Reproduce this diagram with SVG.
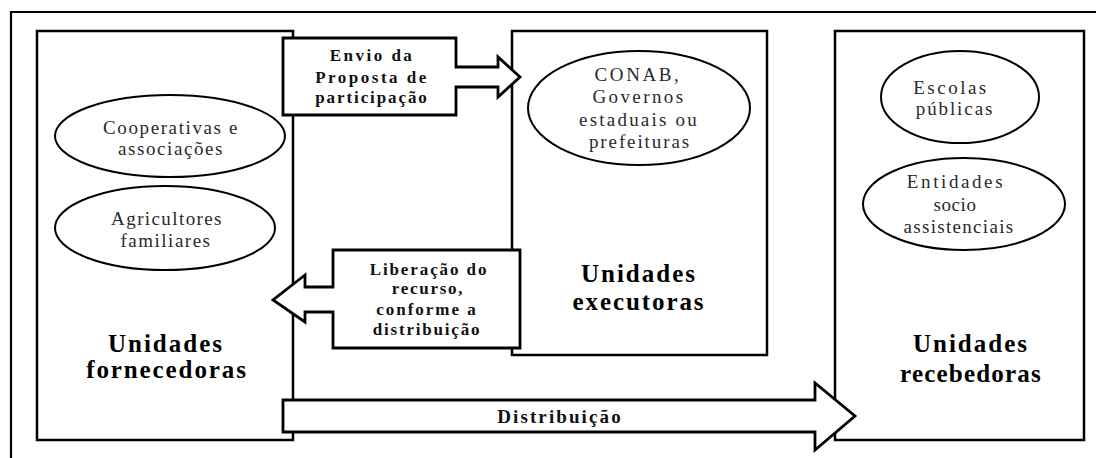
<svg xmlns="http://www.w3.org/2000/svg" width="1096" height="458" viewBox="0 0 1096 458">
<style>
.box{fill:#fff;stroke:#000;stroke-width:2.5}
.ell{fill:#fff;stroke:#000;stroke-width:2}
.arrow{fill:#fff;stroke:#000;stroke-width:2.8;stroke-linejoin:miter}
.frame{fill:none;stroke:#000;stroke-width:2.2}
text{text-anchor:middle}
.r{font-size:19px;fill:#2a2a2a}
.b{font-size:25px;font-weight:bold;fill:#000}
.s{font-size:17px;font-weight:bold;fill:#111}
.d{font-size:19px;font-weight:bold;fill:#111}
</style>
<rect width="1096" height="458" fill="#fff"/>
<g id="frame">
<path class="frame" d="M11,458 V12 H1096"/>
</g>
<g id="fornecedoras">
<rect class="box" x="37" y="31" width="256" height="409"/>
<ellipse class="ell" cx="170" cy="136" rx="115" ry="41"/>
<text class="r" font-family="'Liberation Serif', serif" x="171" y="134" letter-spacing="1.6">Cooperativas e</text>
<text class="r" font-family="'Liberation Serif', serif" x="171" y="155" letter-spacing="1.6">associações</text>
<ellipse class="ell" cx="165" cy="228" rx="110" ry="42"/>
<text class="r" font-family="'Liberation Serif', serif" x="167" y="225" letter-spacing="1.4">Agricultores</text>
<text class="r" font-family="'Liberation Serif', serif" x="166" y="247" letter-spacing="1.5">familiares</text>
<text class="b" font-family="'Liberation Serif', serif" x="166" y="352" letter-spacing="2">Unidades</text>
<text class="b" font-family="'Liberation Serif', serif" x="167" y="378" letter-spacing="1.9">fornecedoras</text>
</g>
<g id="executoras">
<rect class="box" x="512" y="31" width="255" height="324"/>
<ellipse class="ell" cx="639" cy="108" rx="111" ry="57"/>
<text class="r" font-family="'Liberation Serif', serif" x="638" y="81" letter-spacing="2.6">CONAB,</text>
<text class="r" font-family="'Liberation Serif', serif" x="639" y="103" letter-spacing="2.4">Governos</text>
<text class="r" font-family="'Liberation Serif', serif" x="639" y="126" letter-spacing="2.2">estaduais ou</text>
<text class="r" font-family="'Liberation Serif', serif" x="640" y="148" letter-spacing="1.9">prefeituras</text>
<text class="b" font-family="'Liberation Serif', serif" x="639" y="282" letter-spacing="2">Unidades</text>
<text class="b" font-family="'Liberation Serif', serif" x="639" y="310" letter-spacing="1.9">executoras</text>
</g>
<g id="recebedoras">
<rect class="box" x="835" y="31" width="249" height="409"/>
<ellipse class="ell" cx="960" cy="97" rx="79" ry="46"/>
<text class="r" font-family="'Liberation Serif', serif" x="951" y="94" letter-spacing="2.5">Escolas</text>
<text class="r" font-family="'Liberation Serif', serif" x="955" y="115" letter-spacing="1.9">públicas</text>
<ellipse class="ell" cx="964" cy="204" rx="101" ry="46"/>
<text class="r" font-family="'Liberation Serif', serif" x="956" y="188" letter-spacing="2.6">Entidades</text>
<text class="r" font-family="'Liberation Serif', serif" x="955" y="211" letter-spacing="0.6">socio</text>
<text class="r" font-family="'Liberation Serif', serif" x="959" y="233" letter-spacing="1.3">assistenciais</text>
<text class="b" font-family="'Liberation Serif', serif" x="971" y="352" letter-spacing="2">Unidades</text>
<text class="b" font-family="'Liberation Serif', serif" x="971" y="382" letter-spacing="1.2">recebedoras</text>
</g>
<g id="connectors">
<g id="envio">
<path class="arrow" d="M283,38 H456 V67 H498 V57 L520,77 L498,97 V87 H456 V115 H283 Z"/>
<text class="s" font-family="'Liberation Serif', serif" x="372" y="61" letter-spacing="2.5">Envio da</text>
<text class="s" font-family="'Liberation Serif', serif" x="372" y="83" letter-spacing="2.5">Proposta de</text>
<text class="s" font-family="'Liberation Serif', serif" x="372" y="103" letter-spacing="1.9">participação</text>
</g>
<g id="liberacao">
<path class="arrow" d="M520,250 V348 H333 V312 H305 V322 L273,300 L305,275 V287 H333 V250 Z"/>
<text class="s" font-family="'Liberation Serif', serif" x="429" y="275" letter-spacing="1.9">Liberação do</text>
<text class="s" font-family="'Liberation Serif', serif" x="428" y="294" letter-spacing="1.7">recurso,</text>
<text class="s" font-family="'Liberation Serif', serif" x="427" y="315" letter-spacing="2">conforme a</text>
<text class="s" font-family="'Liberation Serif', serif" x="427" y="335" letter-spacing="1.8">distribuição</text>
</g>
<g id="distribuicao">
<path class="arrow" d="M283,400 H815 V383 L855,416 L815,450 V432 H283 Z"/>
<text class="d" font-family="'Liberation Serif', serif" x="560" y="423" letter-spacing="2.1">Distribuição</text>
</g>
</g>
</svg>
